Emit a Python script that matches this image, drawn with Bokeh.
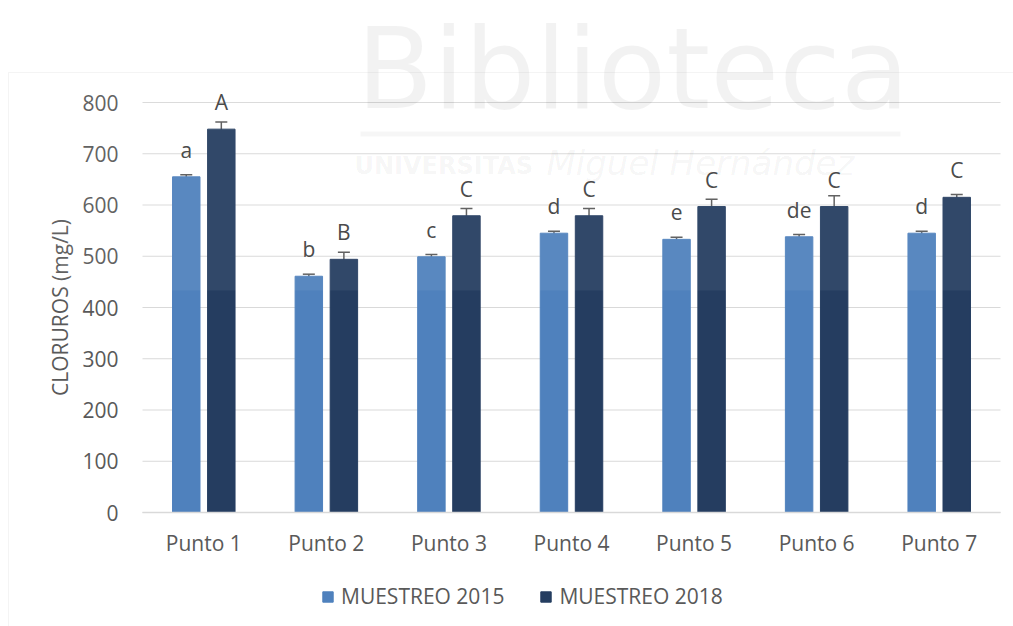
from bokeh.plotting import figure
from bokeh.models import (Range1d, ColumnDataSource, Whisker, TeeHead, FixedTicker,
                          Legend, LegendItem, Label, BoxAnnotation)
from bokeh.transform import dodge
from bokeh.core.properties import value
from bokeh.embed import file_html
from bokeh.resources import INLINE

cats = ["Punto 1", "Punto 2", "Punto 3", "Punto 4", "Punto 5", "Punto 6", "Punto 7"]
v2015 = [655, 461, 499, 545, 533, 538, 545]
e2015 = [4, 4, 4.5, 4, 4, 4.5, 4]
v2018 = [748, 494, 579, 579, 597, 597, 615]
e2018 = [14, 14, 14, 14, 14, 21, 5.5]
l2015 = ["a", "b", "c", "d", "e", "de", "d"]
l2018 = ["A", "B", "C", "C", "C", "C", "C"]
yticks = [0, 100, 200, 300, 400, 500, 600, 700, 800]
series = ["MUESTREO 2015", "MUESTREO 2018"]

FONT = "Open Sans"
WMFONT = "DejaVu Sans"
C15 = "#4f81bd"
C18 = "#253d60"
TXT = "#595959"
GRID = "#d9d9d9"

# layout (pixels)
WIDTH, HEIGHT = 1013, 626
FRAME_L, FRAME_R = 142, 1000
Y0_PX, YTOP_PX = 512, 102
n = len(cats)
cat_w = (FRAME_R - FRAME_L) / n
ymax = yticks[-1]
ppu = (Y0_PX - YTOP_PX) / ymax

def px2x(px):
    return -0.5 + (px - FRAME_L) / cat_w

def px2y(py):
    return (Y0_PX - py) / ppu

idx = list(range(n))
src = ColumnDataSource(dict(
    idx=idx, v2015=v2015, v2018=v2018,
    lo15=[v - e for v, e in zip(v2015, e2015)], hi15=[v + e for v, e in zip(v2015, e2015)],
    lo18=[v - e for v, e in zip(v2018, e2018)], hi18=[v + e for v, e in zip(v2018, e2018)],
    l2015=l2015, l2018=l2018,
))

p = figure(width=WIDTH, height=HEIGHT, output_backend="svg", toolbar_location=None,
           x_range=Range1d(px2x(0), px2x(WIDTH)), y_range=Range1d(px2y(HEIGHT), px2y(0)),
           min_border=0, min_border_left=0, min_border_right=0, min_border_top=0, min_border_bottom=0)
p.title.visible = False
p.outline_line_color = None
p.background_fill_color = "white"
p.border_fill_color = "white"
p.xgrid.visible = False
p.ygrid.visible = False

# chart area border
p.add_layout(BoxAnnotation(left=px2x(8), top=px2y(72), fill_alpha=0,
                           line_color=GRID, line_width=1, level="underlay"))

# watermark
p.add_layout(Label(x=px2x(356), y=px2y(68), text="Biblioteca", text_font=WMFONT,
                   text_font_size="112px", text_color="#000000", text_alpha=0.05,
                   text_baseline="alphabetic", level="annotation"))
p.add_layout(BoxAnnotation(left=px2x(360), right=px2x(900), top=px2y(131), bottom=px2y(136),
                           fill_color="#000000", fill_alpha=0.035, line_color=None, level="annotation"))
p.add_layout(Label(x=px2x(354), y=px2y(165), text="UNIVERSITAS", text_font=WMFONT,
                   text_font_size="24px", text_font_style="bold", text_color="#000000",
                   text_alpha=0.05, text_baseline="alphabetic", level="annotation"))
p.add_layout(Label(x=px2x(546), y=px2y(162), text="Miguel Hernández", text_font=WMFONT,
                   text_font_size="34px", text_font_style="italic", text_color="#000000",
                   text_alpha=0.05, text_baseline="alphabetic", level="annotation"))

# gridlines over the plot area
p.segment(x0=-0.5, x1=n - 0.5, y0=yticks, y1=yticks, line_color=GRID, line_width=1, level="underlay")

W = 0.224
OFF = 0.143
r15 = p.vbar(x=dodge("idx", -OFF), top="v2015", width=W, source=src,
             fill_color=C15, line_color=C15)
r18 = p.vbar(x=dodge("idx", OFF), top="v2018", width=W, source=src,
             fill_color=C18, line_color=C18)

for base, lo, hi in [(dodge("idx", -OFF), "lo15", "hi15"), (dodge("idx", OFF), "lo18", "hi18")]:
    p.add_layout(Whisker(base=base, lower=lo, upper=hi, source=src, line_color=TXT, line_width=1.5,
                         upper_head=TeeHead(size=12, line_color=TXT, line_width=1.5),
                         lower_head=TeeHead(size=12, line_color=TXT, line_width=1.5)))

for xoff, ycol, tcol in [(-OFF, "v2015", "l2015"), (OFF, "v2018", "l2018")]:
    p.text(x=dodge("idx", xoff), y=ycol, text=tcol, source=src,
           y_offset=-27, text_align="center", text_baseline="middle",
           text_font=value(FONT), text_font_size="21px", text_color="#404040")

# faint wash of the watermark image over the upper part of the plot
p.add_layout(BoxAnnotation(bottom=px2y(290), fill_color="white", fill_alpha=0.06,
                           line_color=None, level="overlay"))

# y axis
ya = p.yaxis[0]
ya.fixed_location = -0.5
ya.bounds = (yticks[0], yticks[-1])
ya.ticker = FixedTicker(ticks=yticks)
ya.axis_line_color = None
ya.major_tick_line_color = None
ya.minor_tick_line_color = None
ya.major_tick_out = 0
ya.major_tick_in = 0
ya.major_label_standoff = 24
ya.major_label_text_font = FONT
ya.major_label_text_font_size = "21px"
ya.major_label_text_color = TXT
ya.axis_label = "CLORUROS (mg/L)"
ya.axis_label_text_font = FONT
ya.axis_label_text_font_size = "21px"
ya.axis_label_text_font_style = "normal"
ya.axis_label_text_color = TXT
ya.axis_label_standoff = 5

# x axis
xa = p.xaxis[0]
xa.fixed_location = 0
xa.bounds = (-0.5, n - 0.5)
xa.ticker = FixedTicker(ticks=idx)
xa.major_label_overrides = {i: c for i, c in zip(idx, cats)}
xa.axis_line_color = GRID
xa.axis_line_width = 1.5
xa.major_tick_line_color = None
xa.minor_tick_line_color = None
xa.major_tick_out = 0
xa.major_tick_in = 0
xa.major_label_standoff = 16
xa.major_label_text_font = FONT
xa.major_label_text_font_size = "21px"
xa.major_label_text_color = TXT

legend = Legend(items=[LegendItem(label=series[0], renderers=[r15]),
                       LegendItem(label=series[1], renderers=[r18])],
                orientation="horizontal", location=(321, 16), margin=0, padding=5,
                spacing=35, glyph_width=13, glyph_height=13, label_standoff=7,
                label_text_font=FONT, label_text_font_size="21px", label_text_color=TXT,
                border_line_color=None, background_fill_alpha=0)
p.add_layout(legend)

open("out.html", "w").write(file_html(p, INLINE))
